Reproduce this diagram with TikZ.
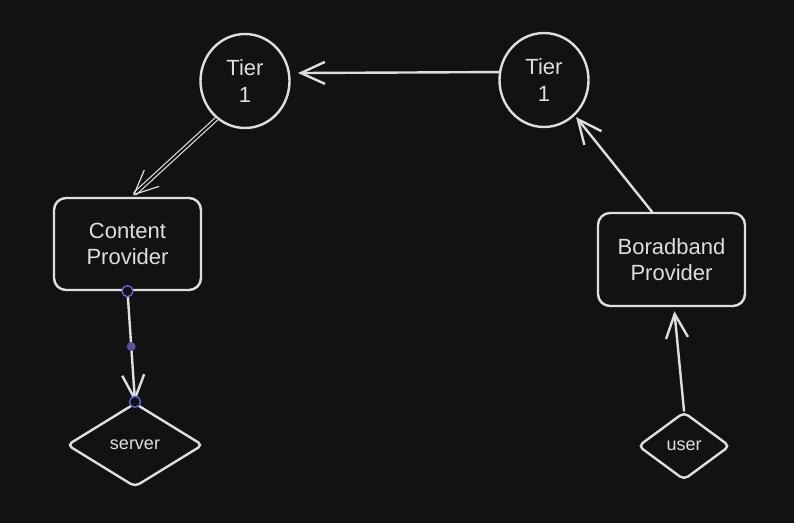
\documentclass[tikz,border=0pt]{standalone}
\usepackage{fontspec}
\setmainfont{Liberation Sans}
\usetikzlibrary{arrows.meta,shapes.geometric,calc}
\definecolor{bg}{HTML}{121212}
\definecolor{ink}{HTML}{DEDEDE}
\definecolor{sel}{HTML}{6965DB}
\definecolor{selfill}{HTML}{5B4F9A}
\tikzset{
  ink/.style={draw=ink, line width=2.4pt},
  tier/.style={ink, ellipse, minimum width=89pt, minimum height=94pt, inner sep=0pt, text=ink, font=\fontsize{22}{27}\selectfont, align=center},
  prov/.style={ink, rectangle, rounded corners=12pt, inner sep=0pt, text=ink, font=\fontsize{22}{26}\selectfont, align=center},
  dia/.style={ink, diamond, rounded corners=5pt, inner sep=0pt, text=ink, font=\fontsize{18}{20}\selectfont},
  arr/.style={draw=ink, line width=2.4pt, line cap=round, -{Straight Barb[length=24pt,width=22pt,line width=2.4pt]}},
  handle/.style={circle, draw=sel, fill=bg, line width=1.3pt, minimum size=11pt, inner sep=0pt},
  middot/.style={circle, fill=selfill, minimum size=9pt, inner sep=0pt}
}
\begin{document}
\begin{tikzpicture}[x=1pt,y=-1pt]
\fill[bg] (0,0) rectangle (794,523);
\useasboundingbox (0,0) rectangle (794,523);

\node[tier] (tl) at (245,81) {Tier\\1};
\node[tier] (tr) at (544,80) {Tier\\1};
\node[prov, minimum width=147pt, minimum height=92pt] (cp) at (127.5,244) {Content\\Provider};
\node[prov, minimum width=147pt, minimum height=93pt] (bp) at (671.5,259.5) {Boradband\\Provider};
\node[dia, minimum width=136pt, minimum height=84pt] (sv) at (135,445) {\raisebox{-4pt}{server}};
\node[dia, minimum width=92pt, minimum height=68pt] (us) at (684,446) {user};

\draw[arr, shorten >=8pt] (tr.170) -- (tl.10);
\draw[draw=ink, line width=1.2pt, double=bg, double distance=2pt, -{Straight Barb[length=24pt,width=22pt]}, shorten >=2pt] (tl.233) -- ([xshift=4pt]cp.north);
\draw[arr] (cp.south) -- (sv.north);
\draw[arr, shorten >=2pt] ([xshift=-19.5pt]bp.north) -- (tr.311);
\draw[arr, shorten >=4pt] (us.north) -- ([xshift=2.5pt]bp.south);

\node[handle] (h1) at (cp.south) {};
\node[handle] (h2) at (sv.north) {};
\node[middot] (h3) at ($(h1)!0.5!(h2)$) {};
\end{tikzpicture}
\end{document}
